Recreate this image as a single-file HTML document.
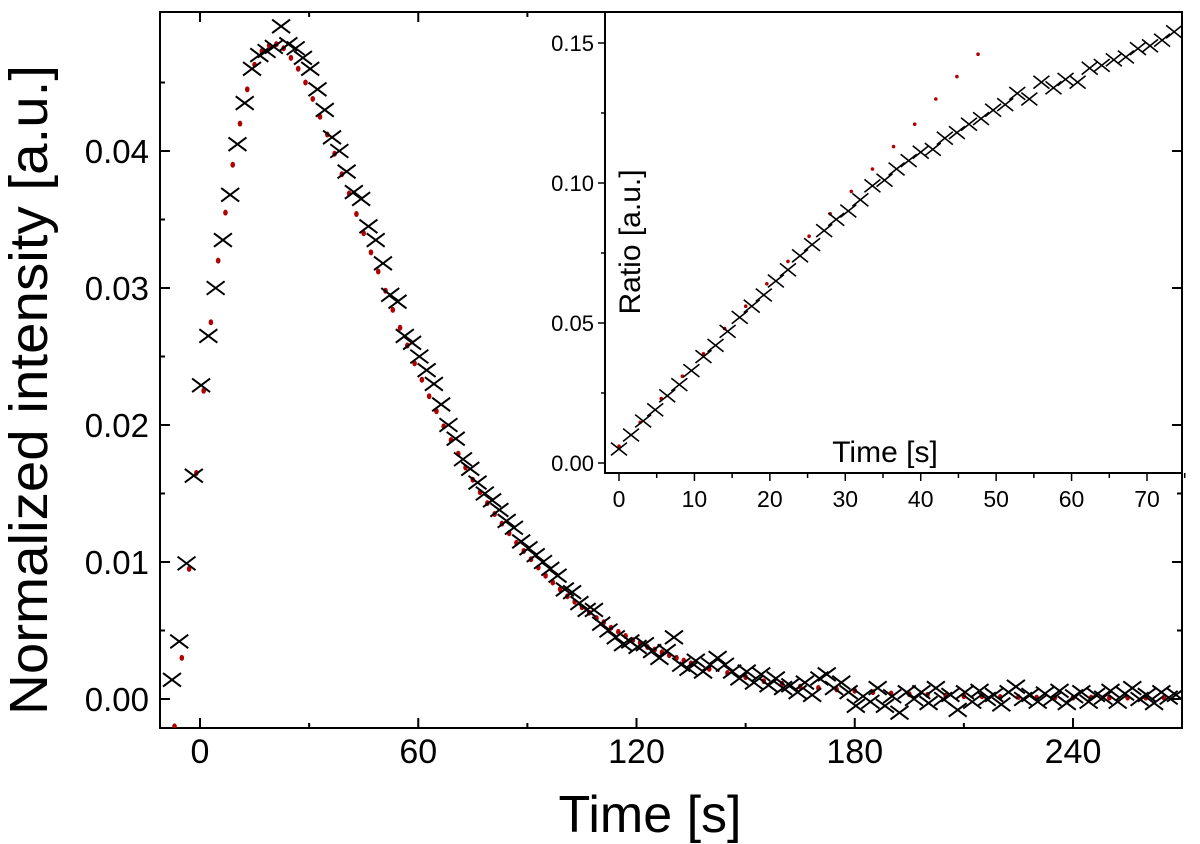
<!DOCTYPE html>
<html><head><meta charset="utf-8"><style>
html,body{margin:0;padding:0;background:#fff;}
svg{display:block;font-family:"Liberation Sans",sans-serif;}
</style></head><body>
<svg id="chart" width="1200" height="844" viewBox="0 0 1200 844" xmlns="http://www.w3.org/2000/svg"></svg>
<script>
// ---- main chart data ----
const mainTimes = [-7.7,-5.7,-3.7,-1.7,0.3,2.3,4.3,6.3,8.3,10.3,12.3,14.3,16.3,18.3,20.3,22.3,24.3,26.3,28.3,30.3,32.3,34.3,36.3,38.3,40.3,42.3,44.3,46.3,48.3,50.3,52.3,54.3,56.3,58.3,60.3,62.3,64.3,66.3,68.3,70.3,72.3,74.3,76.3,78.3,80.3,82.3,84.3,86.3,88.3,90.3,92.3,94.3,96.3,98.3,100.3,102.3,104.3,106.3,108.3,110.3,112.3,114.3,116.3,118.3,120.3,122.3,124.3,126.3,128.3,130.3,132.3,134.3,136.3,138.3,140.3,142.3,144.3,146.3,148.3,150.3,152.3,154.3,156.3,158.3,160.3,162.3,164.3,166.3,168.3,170.3,172.3,174.3,176.3,178.3,180.3,182.3,184.3,186.3,188.3,190.3,192.3,194.3,196.3,198.3,200.3,202.3,204.3,206.3,208.3,210.3,212.3,214.3,216.3,218.3,220.3,222.3,224.3,226.3,228.3,230.3,232.3,234.3,236.3,238.3,240.3,242.3,244.3,246.3,248.3,250.3,252.3,254.3,256.3,258.3,260.3,262.3,264.3,266.3,268.3];
const mainValues = [1.4,4.2,9.9,16.3,22.9,26.5,30,33.5,36.8,40.5,43.5,46,47,47.3,47.6,49.1,47.8,47.5,46.8,46,44.5,43,41,40,38.5,37,36.5,34.5,33.5,31.8,29.5,29,26.5,26,25,24,23,21.5,20,19,17.5,16.8,15.8,15,14.5,13.8,13,12.5,11.5,11,10.5,10,9.5,9,8,7.8,7,6.5,6.5,5.5,5,4.5,4,4.2,3.8,4,3.5,3,3.5,4.5,2.5,2.2,2.8,2,2.5,3,2.5,2,1.5,2,1.2,1.8,1,1.5,0.8,1,0.5,1.2,0.3,1.5,1.8,0.8,1.2,0.5,-0.5,0.2,-0.2,0.8,-0.5,0.2,-1,0.5,0,0.5,-0.3,0.8,0,0.3,-0.8,0.5,-0.2,0.6,0,0.3,-0.4,0.5,0.9,0,0.3,-0.2,0.4,0,0.6,-0.3,0.2,0.5,-0.2,0.3,0.1,0.6,-0.2,0.4,0.8,0,0.3,-0.3,0.5,0.1,0.3];
const fitTimes = [-7,-5,-3,-1,1,3,5,7,9,11,13,15,17,19,21,23,25,27,29,31,33,35,37,39,41,43,45,47,49,51,53,55,57,59,61,63,65,67,69,71,73,75,77,79,81,83,85,87,89,91,93,95,97,99,101,103,105,107,109,111,113,115,117,119,121,123,125,127,129,131,133,135,140,145,150,155,160,165,170,175,180,185,190,195,200,205,210,215,220,225,230,235,240,245,250,255,260,265];
const fitValues = [-2,3,9.5,16.5,22.5,27.5,32,35.5,39,42,44.5,46.3,47.3,47.7,47.8,47.5,46.8,46,45,43.8,42.5,41.2,39.8,38.3,36.9,35.4,34,32.6,31.2,29.8,28.4,27.1,25.8,24.5,23.3,22.1,21,19.9,18.9,17.9,16.9,16,15.1,14.3,13.5,12.8,12.1,11.4,10.8,10.2,9.6,9,8.5,8,7.5,7.1,6.7,6.3,5.9,5.6,5.2,4.9,4.6,4.3,4.1,3.8,3.6,3.4,3.2,3,2.8,2.6,2.2,1.9,1.6,1.3,1.1,0.9,0.8,0.7,0.6,0.5,0.4,0.35,0.3,0.25,0.2,0.2,0.15,0.15,0.1,0.1,0.1,0.1,0.1,0.1,0.1,0.1];
const mainXTicks = [0,60,120,180,240];
const mainYTicks = [0,0.01,0.02,0.03,0.04];
const mainYLabels = ["0.00","0.01","0.02","0.03","0.04"];
// ---- inset data ----
const insetTimes = [0,1.6,3.2,4.8,6.4,8,9.6,11.2,12.8,14.4,16,17.6,19.2,20.8,22.4,24,25.6,27.2,28.8,30.4,32,33.6,35.2,36.8,38.4,40,41.6,43.2,44.8,46.4,48,49.6,51.2,52.8,54.4,56,57.6,59.2,60.8,62.4,64,65.6,67.2,68.8,70.4,72,73.6];
const insetValues = [.005,.010,.015,.019,.024,.028,.033,.038,.042,.047,.052,.056,.060,.065,.069,.074,.078,.083,.087,.090,.094,.099,.101,.105,.108,.111,.112,.116,.118,.121,.123,.126,.128,.132,.130,.136,.134,.137,.136,.141,.142,.144,.145,.148,.149,.151,.154];
const insetFitTimes = [0,2.8,5.6,8.4,11.2,14,16.8,19.6,22.4,25.2,28,30.8,33.6,36.4,39.2,42,44.8,47.6];
const insetFitValues = [.006,.0145,.023,.031,.039,.048,.056,.064,.072,.081,.089,.097,.105,.113,.121,.130,.138,.146];
const insetXTicks = [0,10,20,30,40,50,60,70];
const insetYTicks = [0,0.05,0.10,0.15];
const insetYLabels = ["0.00","0.05","0.10","0.15"];

const svg = document.getElementById('chart');
const NS = 'http://www.w3.org/2000/svg';
function mk(tag, attrs, parent){const e=document.createElementNS(NS,tag);for(const k in attrs)e.setAttribute(k,attrs[k]);(parent||svg).appendChild(e);return e;}

const mx = t => 200 + (t-0)*(1073-200)/240;
const my = v => 699 - v*13700;
const L=160,R=1182,T=12,B=728;

const mainFrame = mk('rect',{x:L,y:T,width:R-L,height:B-T,fill:'none',stroke:'#000','stroke-width':2});



mainXTicks.forEach(t=>{
  const x=mx(t);
  const tk=mk('path',{d:`M${x},${B}v-10M${x},${T}v10`,stroke:'#000','stroke-width':2});
  
  
  const lb=mk('text',{x:x,y:763,'font-size':34,'text-anchor':'middle'});
  lb.textContent=t;
  
  
});
[30,90,150,210].forEach(t=>{
  const x=mx(t);
  const tk=mk('path',{d:`M${x},${B}v-5M${x},${T}v5`,stroke:'#000','stroke-width':2});
  
  
});
mainYTicks.forEach((v,i)=>{
  const y=my(v);
  const tk=mk('path',{d:`M${L},${y}h10M${R},${y}h-10`,stroke:'#000','stroke-width':2});
  
  
  const lb=mk('text',{x:149,y:y+12,'font-size':33,'text-anchor':'end'});
  lb.textContent=mainYLabels[i];
  
  
  const ym=my(v+0.005);
  const mt=mk('path',{d:`M${L},${ym}h5M${R},${ym}h-5`,stroke:'#000','stroke-width':2});
  
  
});
const xt=mk('text',{x:650,y:832,'font-size':52,'text-anchor':'middle'});
xt.textContent='Time [s]';


const yt=mk('text',{x:0,y:0,'font-size':54,'text-anchor':'middle',transform:'translate(47,390) rotate(-90)',textLength:650,lengthAdjust:'spacingAndGlyphs'});
yt.textContent='Normalized intensity [a.u.]';



const defs=mk('defs',{});
const cp=mk('clipPath',{id:'mclip'},defs);
mk('rect',{x:L,y:T,width:R-L,height:B-T},cp);
const mg=mk('g',{'clip-path':'url(#mclip)'});



fitTimes.forEach((t,i)=>{
  const d=mk('ellipse',{cx:mx(t),cy:my(fitValues[i]/1000),rx:2.3,ry:3,fill:'#b00000'},mg);
  
  
});
mainTimes.forEach((t,i)=>{
  const x=mx(t),y=my(mainValues[i]/1000),s=9;
  const c=mk('path',{d:`M${x-s},${y-s*0.75}L${x+s},${y+s*0.75}M${x-s},${y+s*0.75}L${x+s},${y-s*0.75}`,stroke:'#000','stroke-width':2,fill:'none'},mg);
  
  
});

// inset
const IL=605,IR=1182,IT=12,IB=473;
const ix = t => 619 + t*(1147-619)/70;
const iy = v => 463 - v*2800;
const ibg=mk('rect',{x:IL,y:IT,width:IR-IL,height:IB-IT,fill:'#fff',stroke:'#000','stroke-width':2});


insetXTicks.forEach(t=>{
  const x=ix(t);
  const tk=mk('path',{d:`M${x},${IB}v8`,stroke:'#000','stroke-width':1.5});
  
  
  const lb=mk('text',{x:x,y:507,'font-size':23,'text-anchor':'middle'});
  lb.textContent=t;
  
  
  const m=mk('path',{d:`M${ix(t+5)},${IB}v5`,stroke:'#000','stroke-width':1.5});
  
  
});
insetYTicks.forEach((v,i)=>{
  const y=iy(v);
  const tk=mk('path',{d:`M${IL},${y}h-7`,stroke:'#000','stroke-width':1.5});
  
  
  const lb=mk('text',{x:594,y:y+8,'font-size':22,'text-anchor':'end'});
  lb.textContent=insetYLabels[i];
  
  
  const m=mk('path',{d:`M${IL},${iy(v+0.025)}h-4`,stroke:'#000','stroke-width':1.5});
  
  
});
const ixt=mk('text',{x:885,y:462,'font-size':30,'text-anchor':'middle'});
ixt.textContent='Time [s]';


const iyt=mk('text',{x:0,y:0,'font-size':30,'text-anchor':'middle',transform:'translate(640,242) rotate(-90)'});
iyt.textContent='Ratio [a.u.]';



insetFitTimes.forEach((t,i)=>{
  const d=mk('circle',{cx:ix(t),cy:iy(insetFitValues[i]),r:1.8,fill:'#b00000'});
  
  
});
insetTimes.forEach((t,i)=>{
  const x=ix(t),y=iy(insetValues[i]),s=8;
  const c=mk('path',{d:`M${x-s},${y-s*0.8}L${x+s},${y+s*0.8}M${x-s},${y+s*0.8}L${x+s},${y-s*0.8}`,stroke:'#000','stroke-width':1.6,fill:'none'});
  
  
});
mainYTicks.forEach(v=>{
  const t=mk('path',{d:`M${R},${my(v)}h-10`,stroke:'#000','stroke-width':2});
  
  
});
</script>
</body></html>
